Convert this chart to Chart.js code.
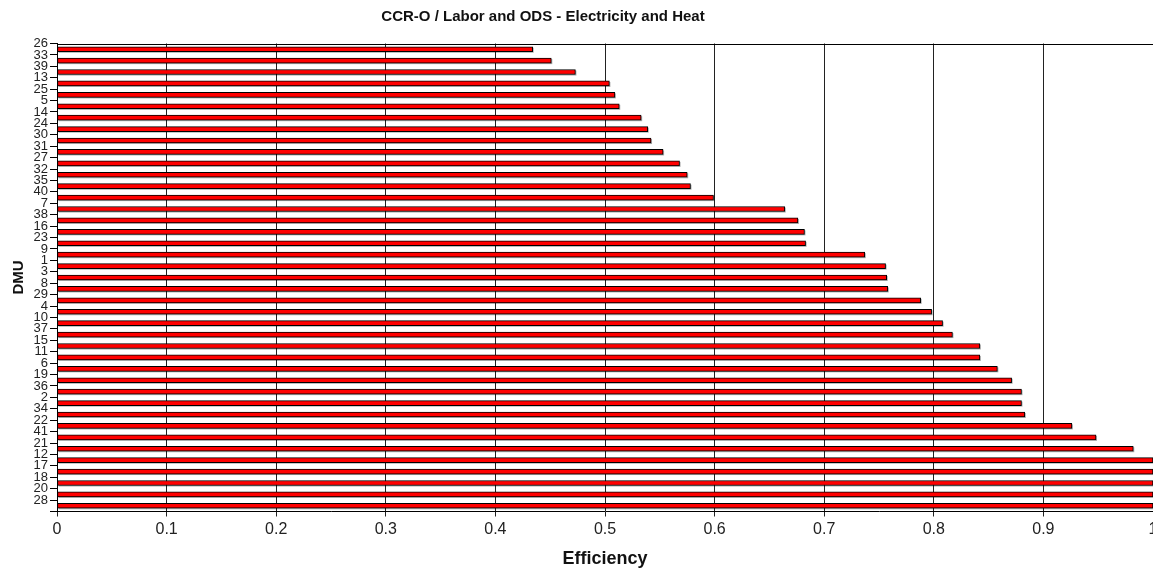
<!DOCTYPE html>
<html>
<head>
<meta charset="utf-8">
<script src="https://cdn.jsdelivr.net/npm/chart.js@4.4.1/dist/chart.umd.min.js"></script>
<style>
    body { margin: 0; background: #fff; }
    #wrap { width: 1153px; height: 570px; }
</style>
</head>
<body>
<div id="wrap"><canvas id="chart" width="1153" height="570"></canvas></div>
<script>
// chart data
const CHART_TITLE = "CCR-O / Labor and ODS - Electricity and Heat"
const X_TITLE = "Efficiency"
const Y_TITLE = "DMU"

const dmuLabels = ['26', '33', '39', '13', '25', '5', '14', '24', '30', '31',
    '27', '32', '35', '40', '7', '38', '16', '23', '9', '1',
    '3', '8', '29', '4', '10', '37', '15', '11', '6', '19',
    '36', '2', '34', '22', '41', '21', '12', '17', '18', '20', '28']

const efficiency = [0.434, 0.451, 0.473, 0.504, 0.509, 0.513, 0.533, 0.539, 0.542, 0.553,
    0.568, 0.575, 0.578, 0.599, 0.664, 0.676, 0.682, 0.683, 0.737, 0.756,
    0.757, 0.758, 0.788, 0.798, 0.808, 0.817, 0.842, 0.842, 0.858, 0.871,
    0.880, 0.880, 0.883, 0.926, 0.948, 0.982, 1, 1, 1, 1, 1]

const xTicks = [0, 0.1, 0.2, 0.3, 0.4, 0.5, 0.6, 0.7, 0.8, 0.9, 1]

Chart.defaults.font.family = '"Liberation Sans", Arial, sans-serif'
Chart.defaults.color = '#222'

// grey drop shadow behind every bar
const barShadow = {
    id: 'barShadow',
    beforeDatasetsDraw(chart) {
        const ctx = chart.ctx
        const meta = chart.getDatasetMeta(0)
        ctx.save()
        ctx.fillStyle = 'rgba(0,0,0,0.35)'
        meta.data.forEach(function(bar) {
            const p = bar.getProps(['x', 'y', 'base', 'height'], true)
            ctx.fillRect(p.base + 1, p.y - p.height / 2 + 1, p.x - p.base, p.height)
        })
        ctx.restore()
    }
}

// top border of the plot and the title
const frameAndTitle = {
    id: 'frameAndTitle',
    afterDraw(chart) {
        const ctx = chart.ctx
        const a = chart.chartArea
        ctx.save()
        ctx.strokeStyle = '#000'
        ctx.lineWidth = 1
        ctx.beginPath()
        ctx.moveTo(a.left, Math.round(a.top) + 0.5)
        ctx.lineTo(a.right, Math.round(a.top) + 0.5)
        ctx.stroke()

        ctx.font = 'bold 15px "Liberation Sans", Arial, sans-serif'
        ctx.fillStyle = '#111'
        ctx.textAlign = 'center'
        ctx.textBaseline = 'middle'
        ctx.fillText(CHART_TITLE, 543, 17)
        ctx.restore()
    }
}

const config = {
    type: 'bar',
    data: {
        labels: dmuLabels,
        datasets: [{
            data: efficiency,
            backgroundColor: '#ff0000',
            borderColor: '#000',
            borderWidth: 1,
            borderSkipped: false,
            barThickness: 5
        }]
    },
    options: {
        indexAxis: 'y',
        responsive: false,
        animation: false,
        layout: {
            padding: { top: 43.5, left: 0, right: 0, bottom: 0 }
        },
        plugins: {
            legend: { display: false },
            title: { display: false },
            tooltip: { enabled: false }
        },
        scales: {
            x: {
                type: 'linear',
                min: 0,
                max: 1,
                afterBuildTicks: function(scale) {
                    scale.ticks = xTicks.map(v => ({ value: v }))
                },
                afterFit: function(scale) {
                    scale.height = 58.5
                    scale.paddingRight = 0
                },
                ticks: {
                    font: { size: 16 },
                    color: '#222',
                    padding: 3,
                    maxRotation: 0,
                    callback: function(value) {
                        return String(value)
                    }
                },
                grid: {
                    color: '#222',
                    lineWidth: 1,
                    tickLength: 5
                },
                border: { color: '#000' },
                title: {
                    display: true,
                    text: X_TITLE,
                    font: { size: 18, weight: 'bold' },
                    color: '#111',
                    padding: { top: 0, bottom: 0 }
                }
            },
            y: {
                type: 'category',
                offset: true,
                afterFit: function(scale) {
                    scale.width = 57
                },
                ticks: {
                    autoSkip: false,
                    font: { size: 13 },
                    color: '#222',
                    padding: 2,
                    labelOffset: -5.7
                },
                grid: {
                    offset: true,
                    drawOnChartArea: false,
                    tickLength: 7,
                    color: '#000'
                },
                border: { color: '#000' },
                title: {
                    display: true,
                    text: Y_TITLE,
                    font: { size: 15, weight: 'bold' },
                    color: '#111',
                    padding: { top: 10, bottom: 0 }
                }
            }
        }
    },
    plugins: [barShadow, frameAndTitle]
}

const myChart = new Chart(document.getElementById('chart'), config)
</script>
</body>
</html>
